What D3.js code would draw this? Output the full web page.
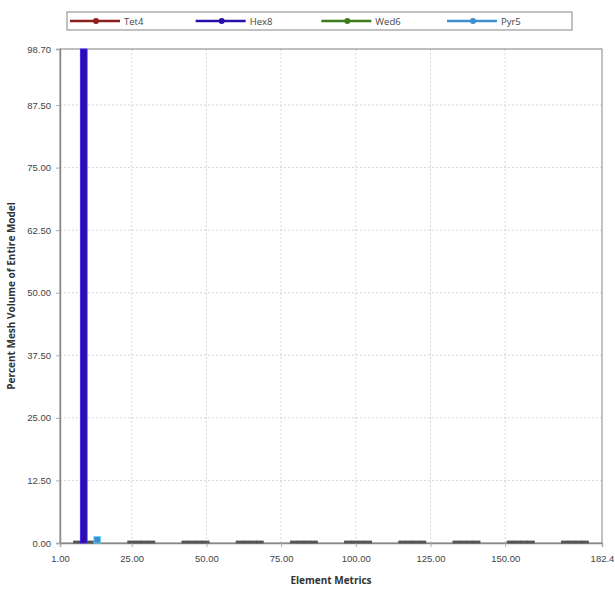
<!DOCTYPE html>
<html>
<head>
<meta charset="utf-8">
<script src="https://cdn.jsdelivr.net/npm/d3@7"></script>
<style>
  html, body { margin: 0; padding: 0; background: #fff; }
  svg { display: block; font-family: "Segoe UI", "Open Sans", "DejaVu Sans", sans-serif; }
</style>
</head>
<body>
<svg id="chart" width="615" height="591"></svg>
<script>
// Element-metric histogram: bin edges and per-element-type volume share (%)
const binEdges = [1.00, 19.14, 37.28, 55.42, 73.56, 91.70, 109.84, 127.98, 146.12, 164.26, 182.40];
const seriesNames = ["Tet4", "Hex8", "Wed6", "Pyr5"];
const seriesColors = ["#8b1f1f", "#2a10a8", "#3d7d1d", "#3f8fcf"];
const tet4 = [0, 0, 0, 0, 0, 0, 0, 0, 0, 0];
const hex8 = [98.70, 0, 0, 0, 0, 0, 0, 0, 0, 0];
const wed6 = [0, 0, 0, 0, 0, 0, 0, 0, 0, 0];
const pyr5 = [1.30, 0, 0, 0, 0, 0, 0, 0, 0, 0];
const xTicks = [1.00, 25.00, 50.00, 75.00, 100.00, 125.00, 150.00, 182.40];
const xTickLabels = ["1.00", "25.00", "50.00", "75.00", "100.00", "125.00", "150.00", "182.4"];
const yTicks = [0, 12.5, 25, 37.5, 50, 62.5, 75, 87.5, 98.7];

const seriesValues = [tet4, hex8, wed6, pyr5];

const svg = d3.select("#chart");
const margin = { left: 60, right: 13, top: 49, bottom: 48 };
const W = 615, H = 591;
const x = d3.scaleLinear().domain([binEdges[0], binEdges[binEdges.length - 1]])
  .range([margin.left, W - margin.right]);
const y = d3.scaleLinear().domain([0, 98.7]).range([H - margin.bottom, margin.top]);

// grid
const grid = svg.append("g");
grid.selectAll("line.gy").data(yTicks.slice(1)).join("line")
  .attr("x1", x.range()[0]).attr("x2", x.range()[1])
  .attr("y1", d => y(d)).attr("y2", d => y(d))
  .attr("stroke", "#d6d6d6").attr("stroke-dasharray", "2,2");
grid.selectAll("line.gx").data(xTicks.slice(1, -1)).join("line")
  .attr("x1", d => x(d)).attr("x2", d => x(d))
  .attr("y1", y.range()[0]).attr("y2", y.range()[1])
  .attr("stroke", "#d6d6d6").attr("stroke-dasharray", "2,2");

// plot frame
svg.append("rect")
  .attr("x", x.range()[0]).attr("y", y.range()[1])
  .attr("width", x.range()[1] - x.range()[0]).attr("height", y.range()[0] - y.range()[1])
  .attr("fill", "none").attr("stroke", "#9a9a9a").attr("stroke-width", 1.2);

// axes
const yAxis = d3.axisLeft(y).tickValues(yTicks).tickFormat(d => d.toFixed(2)).tickSize(4).tickPadding(5);
const xAxis = d3.axisBottom(x).tickValues(xTicks).tickFormat((d, i) => xTickLabels[i]).tickSize(4).tickPadding(8);
const gy = svg.append("g").attr("transform", `translate(${margin.left},0)`).call(yAxis);
const gx = svg.append("g").attr("transform", `translate(0,${H - margin.bottom})`).call(xAxis);
[gx, gy].forEach(g => {
  g.select(".domain").attr("stroke", "#888").attr("stroke-width", 1.4);
  g.selectAll(".tick line").attr("stroke", "#aaa");
  g.selectAll(".tick text").attr("fill", "#444").attr("font-size", 9.5);
});

// bars: four series side by side, centred in each bin
const bins = d3.range(binEdges.length - 1).map(i => ({ lo: binEdges[i], hi: binEdges[i + 1] }));
const groupFrac = 0.5;
bins.forEach((b, i) => {
  const cx = (x(b.lo) + x(b.hi)) / 2;
  const gw = (x(b.hi) - x(b.lo)) * groupFrac;
  const bw = gw / seriesNames.length;
  seriesValues.forEach((vals, s) => {
    const v = vals[i];
    const top = y(v);
    const h = Math.max(y(0) - top, 2);
    svg.append("rect")
      .attr("x", cx - gw / 2 + s * bw)
      .attr("y", y(0) - h)
      .attr("width", bw)
      .attr("height", h)
      .attr("fill", v > 0 ? seriesColors[s] : "#555")
      .attr("stroke", v > 0 ? d3.color(seriesColors[s]).brighter(1.2) : "#555")
      .attr("stroke-width", 0.8);
  });
});

// axis titles
svg.append("text")
  .attr("x", (x.range()[0] + x.range()[1]) / 2).attr("y", 584)
  .attr("text-anchor", "middle").attr("font-size", 10).attr("font-weight", "bold").attr("fill", "#333")
  .text("Element Metrics");
svg.append("text")
  .attr("transform", `translate(15,${(y.range()[0] + y.range()[1]) / 2}) rotate(-90)`)
  .attr("text-anchor", "middle").attr("font-size", 10).attr("font-weight", "bold").attr("fill", "#333")
  .text("Percent Mesh Volume of Entire Model");

// legend
const legend = svg.append("g");
legend.append("rect").attr("x", 67).attr("y", 12).attr("width", 505).attr("height", 18)
  .attr("fill", "#fff").attr("stroke", "#999").attr("stroke-width", 1.2);
const legendX = d3.scalePoint().domain(seriesNames).range([70, 447]);
seriesNames.forEach((name, s) => {
  const lx = legendX(name);
  const item = legend.append("g").attr("transform", `translate(${lx},21)`);
  item.append("line").attr("x1", 0).attr("x2", 50).attr("y1", 0).attr("y2", 0)
    .attr("stroke", seriesColors[s]).attr("stroke-width", 2.5);
  item.append("circle").attr("cx", 26).attr("cy", 0).attr("r", 3).attr("fill", seriesColors[s]);
  item.append("text").attr("x", 54).attr("y", 3.5).attr("font-size", 9.5).attr("fill", "#444").text(name);
});
</script>
</body>
</html>
